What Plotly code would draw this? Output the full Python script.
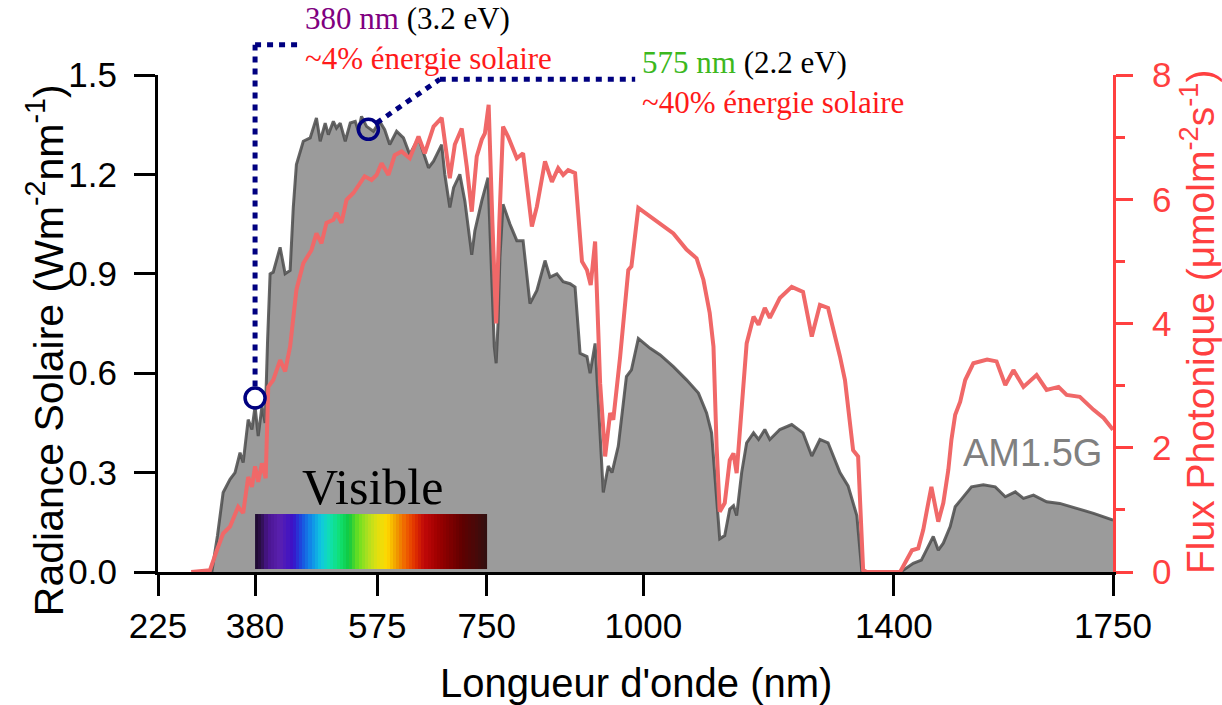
import plotly.graph_objects as go

# ---------------- data ----------------
wl_irr = [300, 311, 320, 329, 340, 348, 356, 361, 369, 375, 380, 385, 391, 396, 400, 404,
          409, 415, 420, 428, 436, 441, 446, 457, 468, 478, 484, 492, 497, 505, 510, 516,
          524, 532, 540, 545, 550, 558, 569, 579, 587, 595, 606, 617, 627, 641, 657, 665,
          678, 683, 691, 697, 707, 715, 726, 731, 742, 752, 758, 762, 765, 768, 771, 776,
          787, 798, 808, 819, 830, 843, 851, 862, 872, 883, 891, 899, 910, 915, 923, 931,
          936, 944, 950, 960, 973, 981, 992, 1011, 1027, 1048, 1069, 1088, 1101, 1109, 1117,
          1122, 1130, 1138, 1144, 1149, 1157, 1165, 1176, 1184, 1194, 1202, 1218, 1237, 1255,
          1269, 1282, 1295, 1314, 1327, 1341, 1349, 1410, 1415, 1431, 1444, 1452, 1463, 1471,
          1479, 1490, 1498, 1508, 1524, 1543, 1562, 1578, 1594, 1607, 1623, 1644, 1665, 1692,
          1719, 1750]
irr = [0.0, 0.0, 0.11, 0.24, 0.28, 0.30, 0.36, 0.33, 0.46, 0.43, 0.50, 0.41, 0.50, 0.45, 0.70, 0.90,
       0.905, 0.95, 0.98, 0.90, 0.91, 1.10, 1.23, 1.30, 1.31, 1.37, 1.30, 1.355, 1.32, 1.36, 1.34, 1.355,
       1.30, 1.355, 1.36, 1.33, 1.375, 1.345, 1.33, 1.36, 1.335, 1.29, 1.33, 1.31, 1.26, 1.31, 1.22, 1.24,
       1.29, 1.20, 1.10, 1.16, 1.20, 1.12, 0.957, 1.03, 1.12, 1.19, 0.85, 0.68, 0.63, 0.75, 0.95, 1.11,
       1.05, 1.00, 1.00, 0.81, 0.85, 0.94, 0.89, 0.90, 0.876, 0.87, 0.86, 0.66, 0.65, 0.60, 0.69, 0.39,
       0.24, 0.32, 0.30, 0.38, 0.59, 0.61, 0.705, 0.675, 0.655, 0.62, 0.58, 0.54, 0.48, 0.42, 0.23,
       0.10, 0.11, 0.19, 0.20, 0.17, 0.30, 0.39, 0.42, 0.40, 0.43, 0.40, 0.43, 0.445, 0.42,
       0.35, 0.40, 0.39, 0.30, 0.26, 0.17, 0.0, 0.0, 0.005, 0.026, 0.036, 0.066, 0.107, 0.066,
       0.087, 0.137, 0.197, 0.22, 0.257, 0.263, 0.257, 0.227, 0.242, 0.222, 0.232, 0.212, 0.207, 0.192,
       0.177, 0.157]

wl_flux = [278, 308, 319, 329, 340, 353, 361, 369, 375, 380, 385, 391, 397, 401, 409, 420, 428,
           436, 446, 457, 470, 478, 486, 494, 505, 510, 518, 526, 537, 547, 555, 566, 574, 582,
           593, 603, 614, 627, 641, 651, 665, 678, 691, 699, 710, 718, 726, 734, 742, 747, 753,
           759, 765, 770, 776, 784, 798, 808, 822, 830, 843, 854, 864, 872, 880, 891, 902, 910,
           916, 923, 931, 939, 947, 952, 963, 976, 981, 992, 1011, 1027, 1048, 1069, 1085, 1096,
           1106, 1112, 1117, 1122, 1130, 1138, 1144, 1149, 1157, 1165, 1176, 1184, 1194, 1202,
           1218, 1237, 1255, 1269, 1282, 1295, 1314, 1322, 1335, 1343, 1351, 1357, 1410, 1418,
           1429, 1439, 1447, 1455, 1460, 1471, 1479, 1487, 1492, 1498, 1506, 1514, 1527, 1549,
           1564, 1578, 1591, 1607, 1628, 1644, 1663, 1676, 1697, 1719, 1735, 1750]
flux = [0.0, 0.03, 0.35, 0.62, 0.73, 1.05, 0.95, 1.53, 1.37, 1.70, 1.45, 1.75, 1.51, 2.98, 3.09, 3.41, 3.23,
        3.63, 4.54, 4.97, 5.18, 5.45, 5.29, 5.62, 5.67, 5.78, 5.62, 5.99, 6.10, 6.26, 6.37, 6.31, 6.39, 6.58,
        6.39, 6.71, 6.77, 6.66, 7.01, 6.74, 7.17, 7.31, 6.34, 6.88, 7.14, 6.53, 5.80, 6.69, 6.96, 7.06, 7.52,
        5.62, 4.00, 5.62, 7.17, 7.01, 6.66, 6.74, 5.56, 5.88, 6.61, 6.28, 6.50, 6.39, 6.47, 6.42, 5.00, 4.86,
        4.62, 5.32, 3.04, 1.86, 2.56, 2.45, 3.47, 4.86, 4.92, 5.86, 5.72, 5.59, 5.45, 5.19, 5.05, 4.70,
        4.17, 3.63, 2.02, 0.97, 1.11, 1.80, 1.91, 1.59, 2.56, 3.68, 4.11, 3.98, 4.25, 4.09,
        4.41, 4.59, 4.51, 3.79, 4.30, 4.25, 3.47, 3.09, 1.96, 1.86, 0.03, 0.0, 0.0, 0.14,
        0.35, 0.38, 0.68, 1.11, 1.37, 0.81, 1.11, 1.64, 2.13, 2.53, 2.74, 3.09, 3.36, 3.42,
        3.39, 3.01, 3.25, 2.98, 3.17, 2.93, 2.98, 2.85, 2.82, 2.61, 2.48, 2.29]

x_ticks = [225, 380, 575, 750, 1000, 1400, 1750]
x_range = [225, 1750]
irr_range = [0, 1.5]
irr_dtick = 0.3
flux_range = [0, 8]
flux_dtick = 2

# visible spectrum colour bar
spec_nm = [380, 390, 400, 420, 440, 455, 470, 485, 500, 515, 530, 545, 560, 575, 590,
           605, 620, 635, 650, 670, 690, 710, 730, 750]
spec_col = ["#1c0a2c", "#2d0f4a", "#4a1590", "#5a20b0", "#3a10c8", "#1a50e0", "#1090e8",
            "#10c8e0", "#10e0b0", "#10e070", "#10c840", "#70e020", "#b0e020", "#e0e010",
            "#ffd800", "#f0a000", "#f06000", "#e03000", "#c00808", "#a00000", "#800000",
            "#600000", "#4a0808", "#301010"]
bar_edges = list(range(380, 755, 5))
bar_y = [0.01, 0.175]

# highlighted points
mark_nm = [380, 561]
mark_irr = [0.525, 1.336]

# leader lines (nm, irradiance units)
lead1 = [(380, 0.56), (380, 1.591), (448, 1.591)]
lead2 = [(574, 1.355), (675, 1.487), (987, 1.487)]

RED = "#f06868"
AXRED = "#ff4040"
TXTRED = "#ff1a1a"
NAVY = "#000080"
SANS = "Liberation Sans, Arial, sans-serif"
SERIF = "Liberation Serif, Times New Roman, serif"

fig = go.Figure()

fig.add_trace(go.Scatter(
    x=wl_irr, y=irr, mode="lines", fill="tozeroy",
    fillcolor="#9b9b9b", line=dict(color="rgba(75,75,75,0.85)", width=3),
    hoverinfo="skip", showlegend=False, xaxis="x", yaxis="y"))

fig.add_trace(go.Scatter(
    x=wl_flux, y=flux, mode="lines",
    line=dict(color=RED, width=4), hoverinfo="skip", showlegend=False,
    xaxis="x", yaxis="y2"))

centers = [(a + b) / 2 for a, b in zip(bar_edges[:-1], bar_edges[1:])]
lo, hi = spec_nm[0], spec_nm[-1]
cscale = [[(w - lo) / (hi - lo), c] for w, c in zip(spec_nm, spec_col)]
fig.add_trace(go.Heatmap(
    x=bar_edges, y=bar_y, z=[centers], zmin=lo, zmax=hi, colorscale=cscale,
    showscale=False, hoverinfo="skip", xaxis="x", yaxis="y3"))

fig.add_trace(go.Scatter(
    x=mark_nm, y=mark_irr, mode="markers",
    marker=dict(symbol="circle-open", size=20, color=NAVY, line=dict(width=3.5, color=NAVY)),
    hoverinfo="skip", showlegend=False, xaxis="x", yaxis="y3"))

shapes = []
ymax = irr_range[1]
for lead in (lead1, lead2):
    for (xa, ya), (xb, yb) in zip(lead[:-1], lead[1:]):
        shapes.append(dict(type="line", xref="x", yref="y domain",
                           x0=xa, y0=ya / ymax, x1=xb, y1=yb / ymax,
                           line=dict(color=NAVY, width=5, dash="6px,6px"), layer="above"))

label1 = ('<span style="color:#800080">380 nm</span> (3.2 eV)<br>'
          '<span style="color:' + TXTRED + '">~4% énergie solaire</span>')
label2 = ('<span style="color:#3cb81e">575 nm</span> (2.2 eV)<br>'
          '<span style="color:' + TXTRED + '">~40% énergie solaire</span>')

ann = []
ann.append(dict(x=lead1[-1][0] + 8, y=1.074, xref="x", yref="paper", xanchor="left", yanchor="middle",
                align="left", showarrow=False, font=dict(family=SERIF, size=31, color="black"),
                text=label1))
ann.append(dict(x=lead2[-1][0] + 8, y=0.984, xref="x", yref="paper", xanchor="left", yanchor="middle",
                align="left", showarrow=False, font=dict(family=SERIF, size=31, color="black"),
                text=label2))
ann.append(dict(x=567, y=0.257, xref="x", yref="y", xanchor="center", yanchor="middle", showarrow=False,
                font=dict(family=SERIF, size=50, color="black"), text="Visible"))
ann.append(dict(x=1622, y=0.359, xref="x", yref="y", xanchor="center", yanchor="middle", showarrow=False,
                font=dict(family=SANS, size=38, color="#808080"), text="AM1.5G"))
ann.append(dict(x=0.501, y=-0.224, xref="paper", yref="paper", xanchor="center", yanchor="middle",
                showarrow=False, font=dict(family=SANS, size=40, color="black"),
                text="Longueur d'onde (nm)"))
ann.append(dict(x=-0.118, y=0.447, xref="paper", yref="paper", xanchor="center", yanchor="middle",
                showarrow=False, textangle=-90, font=dict(family=SANS, size=41, color="black"),
                text="Radiance Solaire (Wm<sup>-2</sup>nm<sup>-1</sup>)"))
ann.append(dict(x=1.088, y=0.503, xref="paper", yref="paper", xanchor="center", yanchor="middle",
                showarrow=False, textangle=-90, font=dict(family=SANS, size=39, color=AXRED),
                text="Flux Photonique (μmolm<sup>-2</sup>s<sup>-1</sup>)"))

fig.update_layout(
    width=1222, height=705,
    margin=dict(l=158, r=109, t=75, b=133, autoexpand=False),
    paper_bgcolor="white", plot_bgcolor="white",
    showlegend=False,
    font=dict(family=SANS, size=35, color="black"),
    xaxis=dict(range=x_range, tickvals=x_ticks, ticktext=[str(v) for v in x_ticks],
               showgrid=False, zeroline=False, showline=True, linecolor="black", linewidth=3,
               ticks="outside", ticklen=21, tickwidth=3, tickcolor="black",
               tickfont=dict(family=SANS, size=35, color="black"), automargin=False),
    yaxis=dict(range=irr_range, dtick=irr_dtick, tick0=0, tickformat=".1f",
               showgrid=False, zeroline=False, showline=True, linecolor="black", linewidth=3,
               ticks="outside", ticklen=21, tickwidth=3, tickcolor="black", ticklabelstandoff=10,
               tickfont=dict(family=SANS, size=35, color="black"), automargin=False),
    yaxis2=dict(range=flux_range, dtick=flux_dtick, tick0=0, overlaying="y", side="right",
                showgrid=False, zeroline=False, showline=True, linecolor=AXRED, linewidth=3,
                ticks="outside", ticklen=17, tickwidth=3, tickcolor=AXRED, ticklabelstandoff=12,
                tickfont=dict(family=SANS, size=35, color=AXRED), automargin=False,
                minor=dict(dtick=1, ticks="outside", ticklen=9, tickwidth=3, tickcolor=AXRED,
                           showgrid=False)),
    yaxis3=dict(range=irr_range, overlaying="y", visible=False),
    shapes=shapes, annotations=ann,
)

fig.write_html("out.html")
